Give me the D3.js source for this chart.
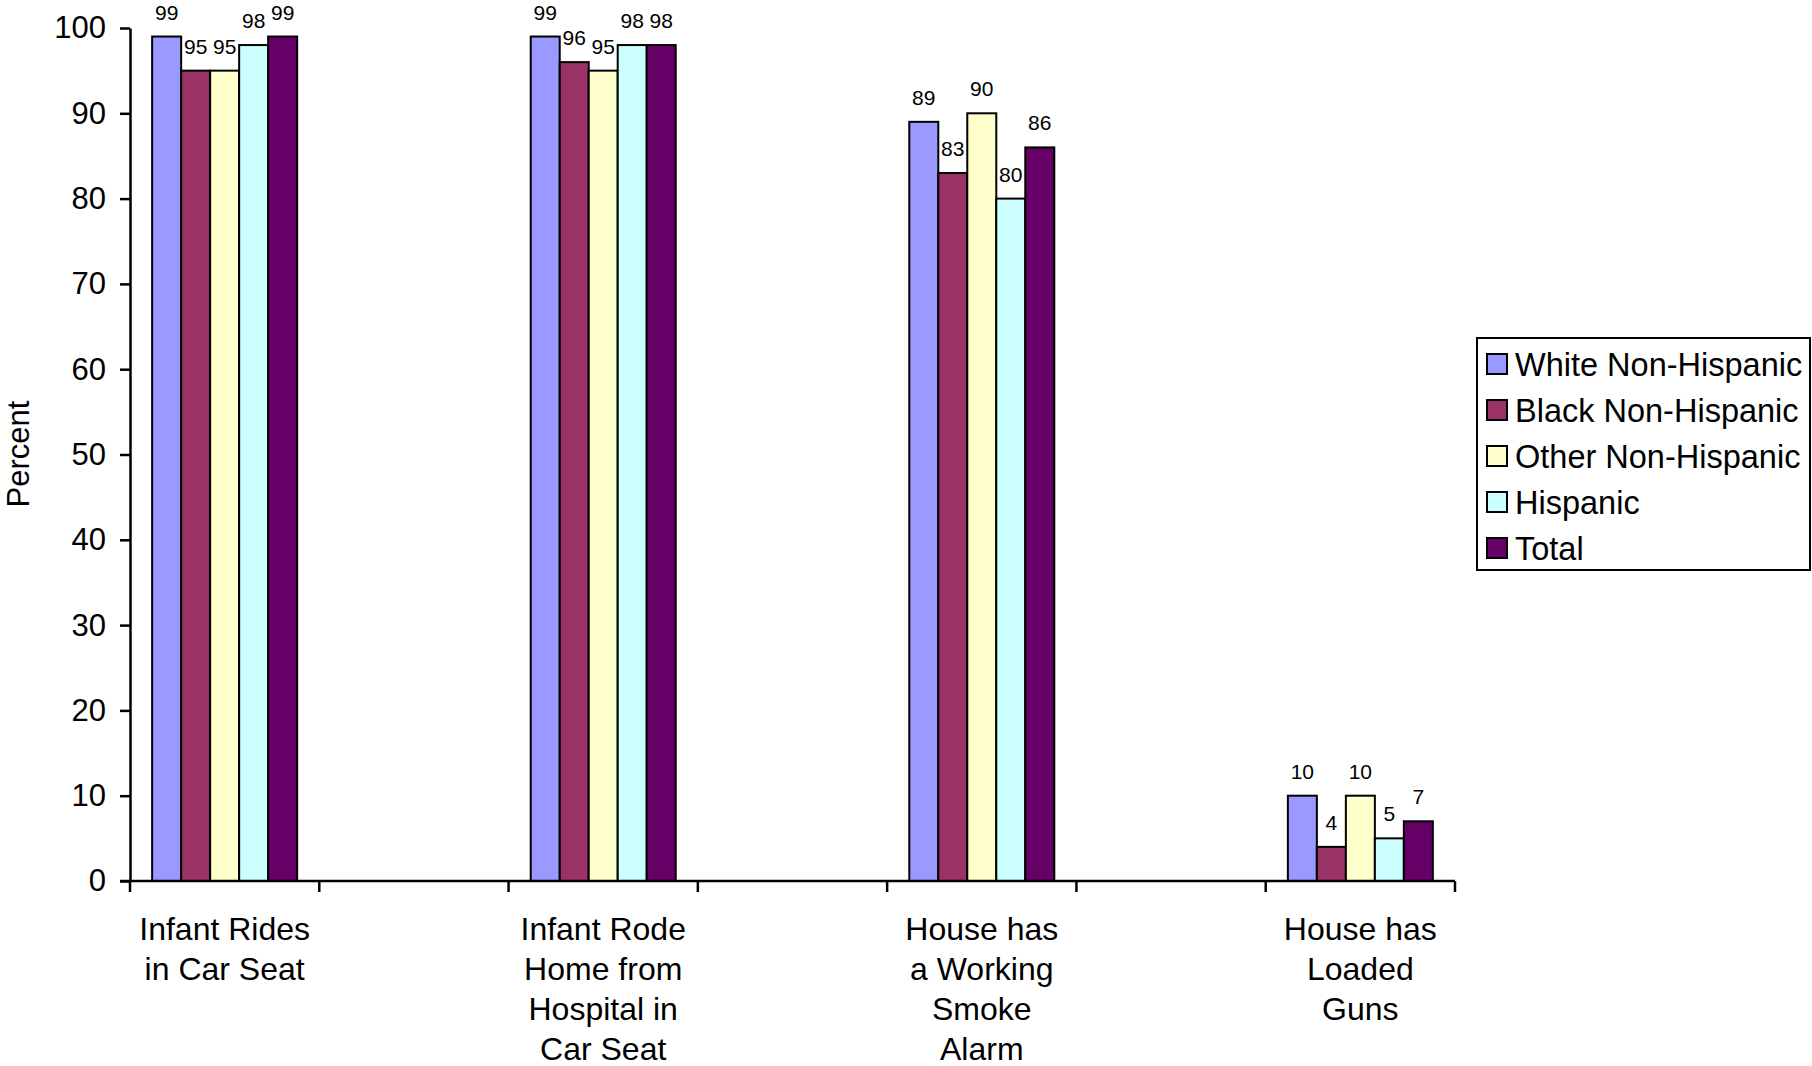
<!DOCTYPE html>
<html>
<head>
<meta charset="utf-8">
<script src="https://cdn.jsdelivr.net/npm/d3@7"></script>
<style>
  html, body { margin: 0; padding: 0; background: #fff; }
  svg { display: block; font-family: "Liberation Sans", Arial, Helvetica, sans-serif; }
</style>
</head>
<body>
<svg id="chart" width="1812" height="1066"></svg>
<script>
// ---- data ----
const categories = [
  ["Infant Rides", "in Car Seat"],
  ["Infant Rode", "Home from", "Hospital in", "Car Seat"],
  ["House has", "a Working", "Smoke", "Alarm"],
  ["House has", "Loaded", "Guns"]
];
const seriesNames = ["White Non-Hispanic", "Black Non-Hispanic", "Other Non-Hispanic", "Hispanic", "Total"];
const seriesColors = ["#9999FF", "#993366", "#FFFFCC", "#CCFFFF", "#660066"];
const whiteNH = [99, 99, 89, 10];
const blackNH = [95, 96, 83, 4];
const otherNH = [95, 95, 90, 10];
const hispanic = [98, 98, 80, 5];
const total = [99, 98, 86, 7];
const yTicks = [0, 10, 20, 30, 40, 50, 60, 70, 80, 90, 100];

const seriesValues = [whiteNH, blackNH, otherNH, hispanic, total];

// category slots: real categories separated by empty slots
const slots = [];
categories.forEach((c, i) => { slots.push("c" + i); if (i < categories.length - 1) slots.push("gap" + i); });

const svg = d3.select("#chart");
const mLeft = 130, mRight = 1455, mTop = 28, mBottom = 881;

const x = d3.scaleBand().domain(slots).range([mLeft, mRight]).paddingInner(0.234).paddingOuter(0.117);
const xInner = d3.scaleBand().domain(seriesNames).range([0, x.bandwidth()]);
const y = d3.scaleLinear().domain([0, 100]).range([mBottom, mTop]);

// bars
const g = svg.append("g");
categories.forEach((c, ci) => {
  const gx = x("c" + ci);
  seriesNames.forEach((s, si) => {
    const v = seriesValues[si][ci];
    g.append("rect")
      .attr("x", gx + xInner(s))
      .attr("y", y(v))
      .attr("width", xInner.bandwidth())
      .attr("height", y(0) - y(v))
      .attr("fill", seriesColors[si])
      .attr("stroke", "#000")
      .attr("stroke-width", 2);
    g.append("text")
      .attr("x", gx + xInner(s) + xInner.bandwidth() / 2)
      .attr("y", y(v) - 17)
      .attr("text-anchor", "middle")
      .attr("font-size", 21)
      .attr("fill", "#000")
      .text(v);
  });
});

// y axis
const yAxis = d3.axisLeft(y).tickValues(yTicks).tickSize(10).tickPadding(14).tickSizeOuter(0);
const ya = svg.append("g").attr("transform", `translate(${mLeft},0)`).call(yAxis);
ya.select(".domain").attr("stroke", "#000").attr("stroke-width", 2.5);
ya.selectAll(".tick line").attr("stroke", "#000").attr("stroke-width", 2.5);
ya.selectAll(".tick text").attr("font-size", 31).attr("fill", "#000")
  .attr("font-family", "'Liberation Sans', Arial, sans-serif");

// x axis line with ticks at slot boundaries
const boundaries = slots.map(s => x(s) - x.step() * x.paddingInner() / 2);
boundaries.push(mRight);
svg.append("line").attr("x1", mLeft - 10).attr("x2", mRight).attr("y1", mBottom).attr("y2", mBottom)
  .attr("stroke", "#000").attr("stroke-width", 2.5);
svg.append("g").selectAll("line").data(boundaries).join("line")
  .attr("x1", d => d).attr("x2", d => d).attr("y1", mBottom).attr("y2", mBottom + 11)
  .attr("stroke", "#000").attr("stroke-width", 2.5);

// category labels
categories.forEach((c, ci) => {
  const cx = x("c" + ci) + x.bandwidth() / 2;
  const t = svg.append("text").attr("text-anchor", "middle").attr("font-size", 32).attr("fill", "#000");
  c.forEach((line, li) => {
    t.append("tspan").attr("x", cx).attr("y", 940 + li * 40).text(line);
  });
});

// y title
svg.append("text")
  .attr("transform", "translate(29,454) rotate(-90)")
  .attr("text-anchor", "middle")
  .attr("font-size", 31)
  .attr("fill", "#000")
  .text("Percent");

// legend
const lg = svg.append("g");
lg.append("rect").attr("x", 1477).attr("y", 338).attr("width", 333).attr("height", 232)
  .attr("fill", "#fff").attr("stroke", "#000").attr("stroke-width", 2);
seriesNames.forEach((s, i) => {
  const cy = 364 + i * 46;
  lg.append("rect").attr("x", 1487).attr("y", cy - 10).attr("width", 20).attr("height", 20)
    .attr("fill", seriesColors[i]).attr("stroke", "#000").attr("stroke-width", 2);
  lg.append("text").attr("x", 1515).attr("y", cy + 11.5).attr("font-size", 32.5).attr("fill", "#000").text(s);
});
</script>
</body>
</html>
